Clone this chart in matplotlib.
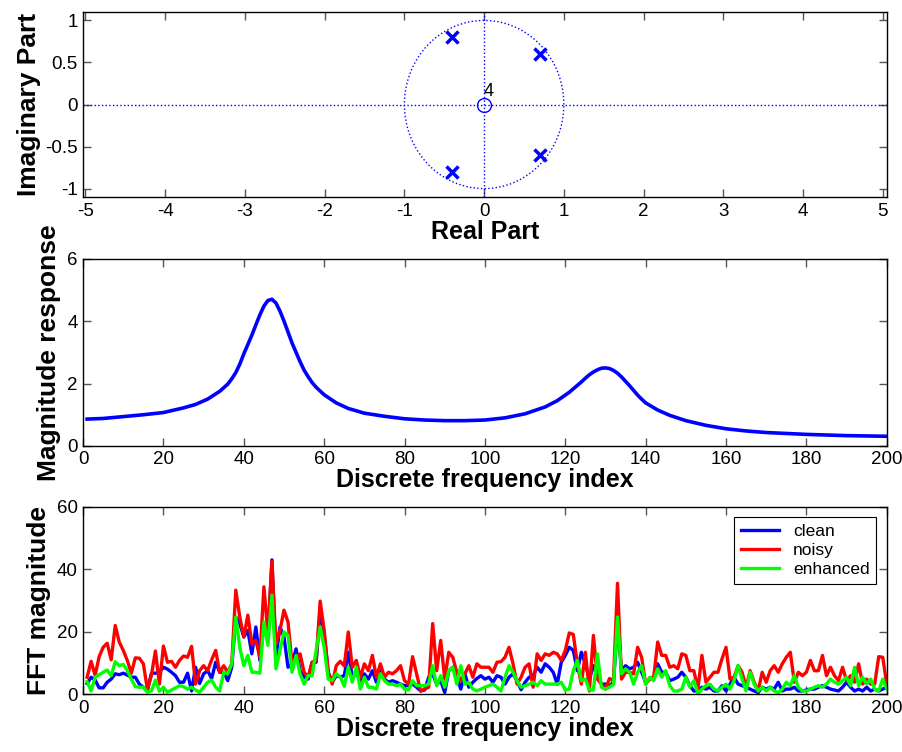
import numpy as np
import matplotlib
matplotlib.use("Agg")
import matplotlib.pyplot as plt

plt.rcParams["font.family"] = ["Liberation Sans", "DejaVu Sans"]
plt.rcParams["axes.unicode_minus"] = False

# ---------------------------------------------------------------- data
# pole / zero locations of the all-pole filter
pole_re = [0.7, 0.7, -0.4, -0.4]
pole_im = [0.6, -0.6, 0.8, -0.8]
zero_re = [0.0]
zero_im = [0.0]
zero_mult = "4"

# magnitude response, sampled along the frequency index
resp_idx = [1, 5, 10, 15, 20, 25, 28, 31, 34, 36, 37, 38, 39, 40, 41, 42,
            43, 44, 45, 46, 47, 48, 49, 50, 51, 52, 53, 54, 55, 56, 57, 58,
            60, 63, 66, 70, 75, 80, 85, 90, 95, 100, 105, 110, 115, 118,
            121, 124, 125, 126, 127, 128, 129, 130, 131, 132, 133, 134, 135,
            136, 137, 138, 139, 140, 143, 146, 150, 155, 160, 165, 170, 180,
            190, 200]
resp_mag = [0.86, 0.88, 0.94, 1.0, 1.07, 1.22, 1.33, 1.5, 1.75, 1.98, 2.15,
            2.35, 2.62, 2.95, 3.25, 3.55, 3.88, 4.2, 4.48, 4.66, 4.7, 4.58,
            4.32, 4.0, 3.65, 3.3, 3.0, 2.7, 2.43, 2.22, 2.03, 1.88, 1.64,
            1.38, 1.2, 1.05, 0.95, 0.87, 0.83, 0.81, 0.81, 0.83, 0.9, 1.03,
            1.25, 1.45, 1.72, 2.05, 2.17, 2.28, 2.37, 2.44, 2.49, 2.5, 2.48,
            2.42, 2.33, 2.21, 2.07, 1.93, 1.78, 1.63, 1.5, 1.38, 1.15, 0.98,
            0.81, 0.66, 0.55, 0.48, 0.43, 0.37, 0.33, 0.31]

# FFT magnitudes, bins 1..200
clean = [
    3.4, 5.4, 4.5, 2.0, 2.0, 3.8, 4.8, 6.5, 6.2, 6.7,
    6.1, 5.4, 5.4, 3.2, 2.2, 1.0, 6.7, 6.7, 7.0, 8.6,
    8.0, 7.0, 5.9, 3.8, 3.8, 6.7, 1.0, 8.6, 3.4, 6.5,
    7.5, 5.0, 10.2, 7.0, 7.0, 4.3, 8.6, 24.7, 22.6, 18.3,
    20.4, 12.9, 21.5, 10.8, 22.6, 18.3, 43.0, 11.8, 21.5, 18.3,
    8.6, 9.7, 14.5, 7.5, 5.4, 4.8, 10.2, 10.2, 26.9, 19.4,
    7.0, 3.8, 5.9, 5.5, 5.9, 13.4, 5.4, 7.0, 3.8, 6.5,
    4.8, 7.5, 3.8, 8.1, 4.8, 3.8, 4.3, 3.8, 3.2, 2.7,
    2.7, 3.2, 2.2, 1.0, 1.3, 5.4, 6.5, 3.2, 4.3, 0.5,
    7.5, 8.6, 5.4, 1.6, 6.5, 2.2, 3.8, 5.0, 5.9, 4.8,
    5.4, 3.8, 5.9, 5.4, 3.2, 5.4, 6.5, 4.3, 1.4, 3.8,
    5.4, 5.9, 8.6, 7.0, 9.7, 8.6, 7.0, 3.2, 10.2, 12.4,
    15.0, 14.0, 7.5, 13.4, 9.7, 4.8, 9.1, 5.9, 3.2, 3.2,
    2.7, 3.8, 22.6, 7.5, 9.1, 8.1, 8.6, 10.2, 7.0, 3.8,
    4.8, 5.4, 9.7, 7.0, 7.0, 4.3, 4.8, 5.4, 7.0, 5.4,
    2.7, 1.0, 1.0, 2.2, 1.6, 2.2, 1.0, 1.0, 2.7, 1.0,
    3.2, 5.4, 3.2, 2.7, 2.2, 1.6, 1.0, 0.5, 2.2, 1.6,
    2.2, 1.6, 3.8, 1.0, 1.6, 1.6, 2.2, 1.0, 1.0, 1.3,
    1.6, 1.6, 2.2, 2.7, 2.2, 1.6, 1.3, 1.0, 2.2, 3.8,
    2.2, 1.0, 1.6, 1.0, 2.2, 1.0, 1.6, 1.0, 1.6, 2.2,
]
noisy = [
    5.4, 10.5, 6.0, 12.0, 15.0, 16.3, 11.0, 22.0, 16.7, 14.0,
    10.8, 6.7, 11.6, 11.5, 9.7, 1.6, 6.0, 13.8, 3.2, 15.4,
    10.2, 10.5, 8.6, 10.8, 12.2, 11.8, 15.3, 3.2, 7.5, 9.1,
    7.5, 11.0, 14.0, 7.0, 9.1, 7.0, 9.7, 33.3, 24.7, 18.3,
    25.3, 16.1, 17.2, 11.8, 34.4, 19.4, 42.5, 16.0, 20.4, 26.9,
    23.1, 9.7, 11.3, 12.9, 7.0, 5.4, 10.2, 10.8, 29.8, 20.4,
    7.0, 3.2, 9.1, 10.5, 9.0, 19.9, 8.6, 10.8, 5.4, 9.7,
    7.5, 12.4, 5.4, 9.7, 5.4, 7.0, 6.5, 7.5, 9.1, 4.3,
    3.2, 12.0, 6.5, 1.0, 1.6, 2.2, 22.6, 7.5, 17.2, 4.8,
    13.4, 11.8, 7.0, 4.3, 6.5, 9.1, 5.4, 9.7, 8.6, 8.6,
    8.6, 7.0, 10.2, 10.4, 11.8, 15.0, 9.7, 3.2, 5.4, 8.6,
    9.7, 2.2, 12.9, 10.8, 12.9, 12.4, 13.4, 12.9, 10.8, 14.0,
    19.6, 19.1, 9.7, 3.2, 13.4, 1.0, 18.8, 4.8, 3.2, 1.6,
    5.0, 4.3, 35.5, 4.8, 7.0, 7.0, 6.5, 15.0, 11.8, 3.2,
    4.8, 5.4, 16.7, 12.4, 12.4, 8.6, 9.1, 8.1, 12.9, 12.4,
    7.5, 7.5, 1.6, 12.4, 3.8, 5.4, 7.0, 7.0, 11.3, 15.0,
    4.8, 5.4, 9.1, 7.0, 2.2, 7.5, 3.8, 1.0, 7.0, 3.8,
    7.5, 9.1, 7.0, 9.7, 11.8, 13.4, 3.8, 7.0, 5.9, 7.0,
    10.8, 7.5, 7.5, 12.4, 5.9, 8.6, 5.9, 4.3, 8.6, 4.3,
    5.9, 3.8, 9.7, 3.2, 4.8, 3.2, 3.2, 12.0, 11.8, 3.2,
]
enhanced = [
    4.0, 1.0, 5.4, 6.2, 7.0, 7.7, 5.9, 10.4, 9.1, 9.5,
    7.5, 4.8, 2.4, 2.2, 2.2, 0.6, 1.0, 4.5, 0.9, 2.2,
    0.6, 1.3, 2.0, 2.7, 2.4, 1.6, 2.2, 1.3, 0.6, 2.2,
    3.8, 4.5, 2.2, 1.0, 7.0, 6.5, 9.7, 24.7, 15.0, 9.1,
    12.4, 7.0, 7.0, 6.7, 23.1, 15.6, 31.7, 8.1, 14.0, 19.9,
    18.8, 7.0, 12.4, 6.5, 3.2, 5.9, 5.9, 14.0, 21.5, 15.0,
    4.8, 4.3, 6.5, 5.5, 2.5, 8.6, 3.8, 8.6, 1.6, 5.4,
    2.2, 2.2, 1.6, 6.5, 4.3, 3.2, 3.2, 2.7, 3.2, 1.6,
    1.3, 4.3, 2.7, 2.7, 2.7, 3.2, 9.1, 2.7, 5.9, 2.2,
    7.5, 8.6, 3.2, 9.1, 3.2, 3.8, 1.6, 1.0, 1.6, 2.2,
    2.7, 3.2, 2.2, 1.0, 5.4, 9.1, 7.0, 4.3, 2.2, 2.7,
    3.2, 3.8, 2.7, 4.3, 3.2, 3.2, 3.2, 3.2, 3.8, 1.3,
    1.6, 7.5, 10.8, 4.3, 4.8, 1.3, 1.3, 12.9, 2.2, 1.6,
    2.2, 3.2, 24.7, 6.5, 8.1, 7.0, 3.2, 7.0, 9.1, 3.2,
    5.4, 4.3, 8.1, 5.4, 7.5, 2.7, 1.0, 1.0, 1.6, 5.4,
    2.2, 4.3, 0.2, 1.6, 2.7, 3.2, 1.6, 1.0, 2.2, 3.2,
    1.6, 4.3, 9.1, 4.8, 1.0, 7.0, 3.2, 1.0, 2.2, 1.0,
    2.2, 1.0, 0.5, 1.6, 3.8, 2.7, 5.9, 2.2, 1.0, 1.0,
    1.6, 2.2, 2.7, 2.2, 3.2, 4.8, 3.8, 3.2, 4.3, 5.4,
    2.7, 8.6, 2.7, 5.4, 3.2, 4.8, 1.6, 1.0, 4.8, 1.6,
]
bins = np.arange(1, len(clean) + 1)


def matlab_axes(ax):
    ax.tick_params(direction="in", top=True, right=True, length=5.5,
                   width=1.0, color="#555555", labelsize=13.5, pad=4)
    for s in ax.spines.values():
        s.set_linewidth(1.0)


xlabel_kw = dict(fontsize=18, fontweight="bold")
ylabel_kw = dict(fontsize=19, fontweight="bold")

fig = plt.figure(figsize=(9.03, 7.52), dpi=100)
left, width = 0.092, 0.890
ax1 = fig.add_axes([left, 0.738, width, 0.246])
ax2 = fig.add_axes([left, 0.407, width, 0.249])
ax3 = fig.add_axes([left, 0.077, width, 0.249])

# ---------------------------------------------------------------- z-plane
t = np.linspace(0, 2 * np.pi, 200)
ax1.plot(np.cos(t), np.sin(t), ":", color="b", lw=1.0)
ax1.axhline(0, ls=":", color="b", lw=1.0)
ax1.axvline(0, ls=":", color="b", lw=1.0)
ax1.plot(pole_re, pole_im, "x", color="b", ms=8, mew=2.5)
ax1.plot(zero_re, zero_im, "o", mfc="none", mec="b", ms=10, mew=1.0)
ax1.text(zero_re[0] + 0.0, zero_im[0] + 0.05, zero_mult, fontsize=13,
         ha="left", va="bottom")
ax1.set_xlim(-5.03, 5.05)
ax1.set_ylim(-1.1, 1.1)
ax1.set_xticks(np.arange(-5, 6, 1))
ax1.set_yticks([-1, -0.5, 0, 0.5, 1])
ax1.set_yticklabels(["-1", "-0.5", "0", "0.5", "1"])
ax1.set_xlabel("Real Part", labelpad=0, **xlabel_kw)
ax1.set_ylabel("Imaginary Part", labelpad=3, **ylabel_kw)
matlab_axes(ax1)

# ---------------------------------------------------------------- response
ax2.plot(resp_idx, resp_mag, color="b", lw=2.6)
ax2.set_xlim(0, 200)
ax2.set_ylim(0, 6)
ax2.set_xticks(np.arange(0, 201, 20))
ax2.set_yticks([0, 2, 4, 6])
ax2.set_xlabel("Discrete frequency index", labelpad=0, **xlabel_kw)
ax2.set_ylabel("Magnitude response", labelpad=4, **ylabel_kw)
matlab_axes(ax2)

# ---------------------------------------------------------------- spectra
ax3.plot(bins, clean, color=(0, 0, 1), lw=2.4, label="clean")
ax3.plot(bins, noisy, color=(1, 0, 0), lw=2.4, label="noisy")
ax3.plot(bins, enhanced, color=(0, 1, 0), lw=2.4, label="enhanced")
ax3.set_xlim(0, 200)
ax3.set_ylim(0, 60)
ax3.set_xticks(np.arange(0, 201, 20))
ax3.set_yticks([0, 20, 40, 60])
ax3.set_xlabel("Discrete frequency index", labelpad=0, **xlabel_kw)
ax3.set_ylabel("FFT magnitude", labelpad=4, **ylabel_kw)
leg = ax3.legend(loc="upper right", fontsize=12.5, fancybox=False,
                 framealpha=1, edgecolor="black", handlelength=2.2,
                 borderaxespad=0.6, labelspacing=0.2)
leg.get_frame().set_linewidth(0.8)
matlab_axes(ax3)

fig.savefig("out.png", dpi=100)
